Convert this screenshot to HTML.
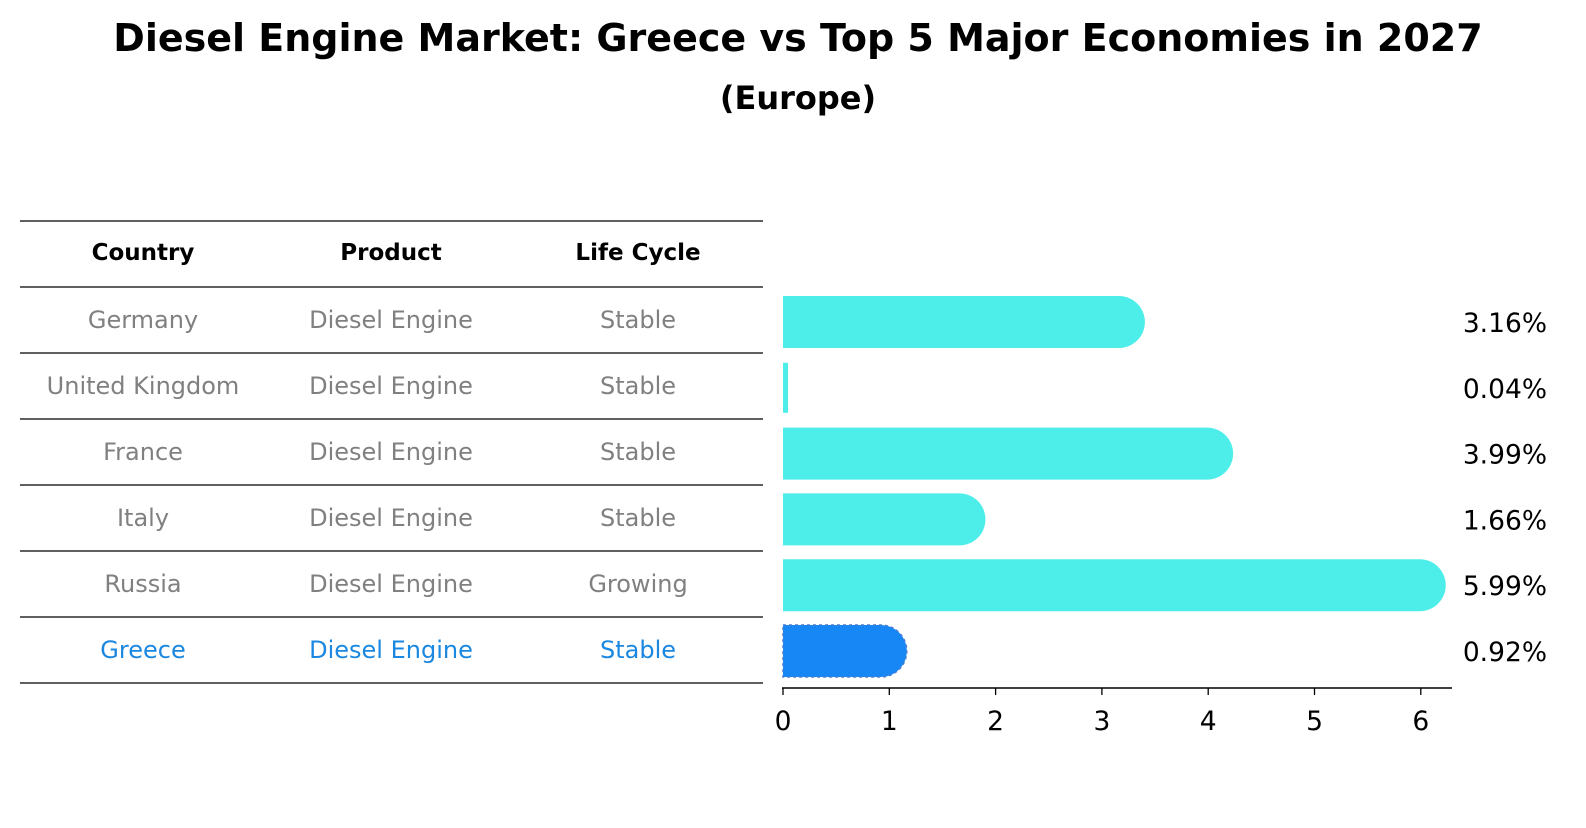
<!DOCTYPE html>
<html><head><meta charset="utf-8"><style>
body{margin:0;background:#fff;font-family:"Liberation Sans","DejaVu Sans",sans-serif}
svg text{font-family:"DejaVu Sans","Liberation Sans",sans-serif}
</style></head><body>
<svg id="c" width="1586" height="823" viewBox="0 0 1586 823">
<text x="798" y="51" text-anchor="middle" font-size="38" font-weight="bold">Diesel Engine Market: Greece vs Top 5 Major Economies in 2027</text>
<text x="798" y="109" text-anchor="middle" font-size="32" font-weight="bold">(Europe)</text>
<g id="table"></g>
<g id="bars"></g>
</svg>
<script>
const countries=["Germany","United Kingdom","France","Italy","Russia","Greece"];
const products=["Diesel Engine","Diesel Engine","Diesel Engine","Diesel Engine","Diesel Engine","Diesel Engine"];
const lifeCycles=["Stable","Stable","Stable","Stable","Growing","Stable"];
const values=[3.16,0.04,3.99,1.66,5.99,0.92];
const ticks=[0,1,2,3,4,5,6];
const NS="http://www.w3.org/2000/svg";
const x0=783, pxPer=106.3;
const xs=v=>x0+v*pxPer;
const rowY=i=>322+i*65.8;
function mk(tag,attrs,parent,text){const e=document.createElementNS(NS,tag);for(const k in attrs)e.setAttribute(k,attrs[k]);if(text!==undefined)e.textContent=text;parent.appendChild(e);return e;}
const tb=document.getElementById('table');
const lineYs=[221,287,353,419,485,551,617,683];
lineYs.forEach(y=>{const l=mk('line',{x1:20,x2:763,y1:y,y2:y,stroke:'#000','stroke-width':1.2},tb);

});
const colX=[143,391,638];
["Country","Product","Life Cycle"].forEach((h,j)=>{const t=mk('text',{x:colX[j],y:260,'text-anchor':'middle','font-size':23,'font-weight':'bold'},tb,h);

});
countries.forEach((c,i)=>{
 const col=c==="Greece"?"#1a87e0":"#808080";
 const y=lineYs[i+1]+33+8;
 [c,products[i],lifeCycles[i]].forEach((v,j)=>{const t=mk('text',{x:colX[j],y:y,'text-anchor':'middle','font-size':24,fill:col},tb,v);
 
 });
});
const bg=document.getElementById('bars');
const h=52,r=26;
values.forEach((v,i)=>{
 const cy=rowY(i),top=cy-h/2,xe=xs(v);
 const isG=countries[i]==="Greece";
 const fill=isG?"#1787f5":"#4deeea";
 let el;
 if(xe-x0<8){el=mk('rect',{x:x0,y:top+1,width:Math.max(xe-x0,5),height:50,fill:fill},bg);}
 else{
  const d=`M${x0},${top} L${xe},${top} A${r},${r} 0 0 1 ${xe},${top+h} L${x0},${top+h} Z`;
  el=mk('path',{d:d,fill:fill},bg);
  if(isG){el.setAttribute('stroke','#4a7fd0');el.setAttribute('stroke-dasharray','3,3');el.setAttribute('stroke-width','1.5');}
 }
 
 
 const t=mk('text',{x:1547,y:cy+10,'text-anchor':'end','font-size':26.5},bg,v.toFixed(2)+'%');
 
 
});
const ax=mk('line',{x1:x0-1,x2:1452,y1:688,y2:688,stroke:'#000','stroke-width':1.5},bg);


ticks.forEach(tv=>{
 const tk=mk('line',{x1:xs(tv),x2:xs(tv),y1:688,y2:695,stroke:'#000','stroke-width':1.3},bg);
 
 
 const t=mk('text',{x:xs(tv),y:730,'text-anchor':'middle','font-size':26.5},bg,String(tv));
 
 
});
</script>
</body></html>
